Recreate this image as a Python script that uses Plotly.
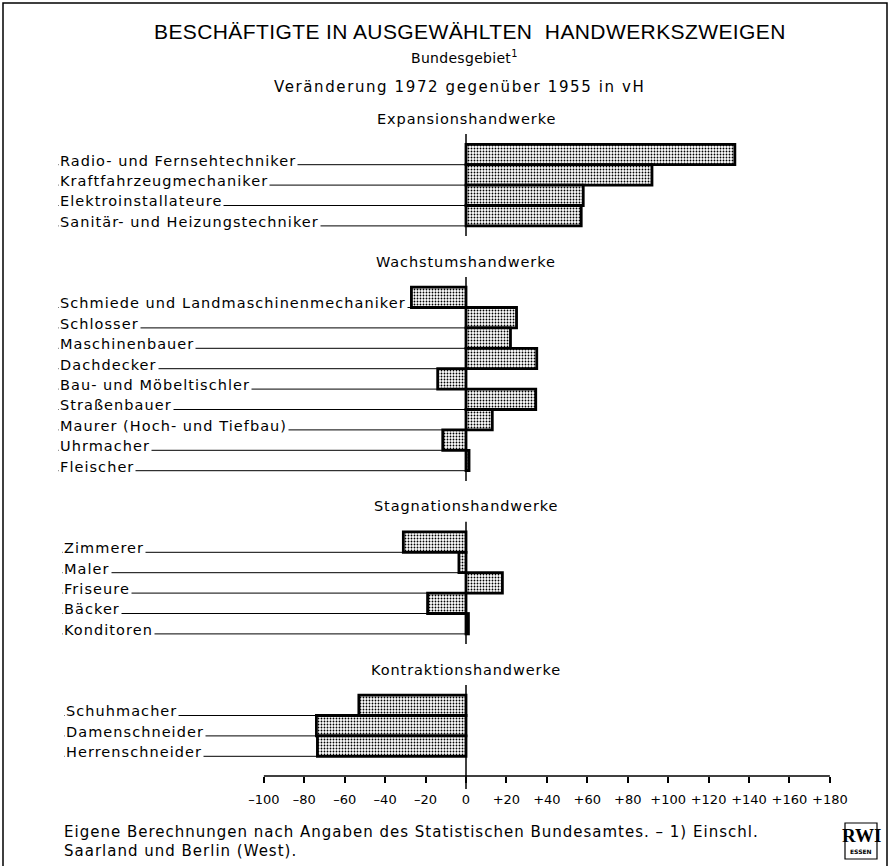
import plotly.graph_objects as go

# ---------------- data ----------------
group_titles = ["Expansionshandwerke", "Wachstumshandwerke",
                "Stagnationshandwerke", "Kontraktionshandwerke"]

expansion_labels = ["Radio- und Fernsehtechniker", "Kraftfahrzeugmechaniker",
                    "Elektroinstallateure", "Sanitär- und Heizungstechniker"]
expansion_values = [133, 92, 58, 57]

growth_labels = ["Schmiede und Landmaschinenmechaniker", "Schlosser", "Maschinenbauer",
                 "Dachdecker", "Bau- und Möbeltischler", "Straßenbauer",
                 "Maurer (Hoch- und Tiefbau)", "Uhrmacher", "Fleischer"]
growth_values = [-27, 25, 22, 35, -14, 34.5, 13, -11.5, 1.5]

stagnation_labels = ["Zimmerer", "Maler", "Friseure", "Bäcker", "Konditoren"]
stagnation_values = [-31, -3.5, 18, -19, 1.2]

contraction_labels = ["Schuhmacher", "Damenschneider", "Herrenschneider"]
contraction_values = [-53, -74, -73.5]

tick_values = [-100, -80, -60, -40, -20, 0, 20, 40, 60, 80, 100, 120, 140, 160, 180]
tick_labels = ["–100", "–80", "–60", "–40", "–20", "0", "+20", "+40", "+60",
               "+80", "+100", "+120", "+140", "+160", "+180"]

title_text = "BESCHÄFTIGTE IN AUSGEWÄHLTEN  HANDWERKSZWEIGEN"
subtitle_text = "Bundesgebiet<sup>1</sup>"
unit_text = "Veränderung 1972 gegenüber 1955 in vH"
source_lines = ["Eigene Berechnungen nach Angaben des Statistischen Bundesamtes. – 1) Einschl.",
                "Saarland und Berlin (West)."]

# ---------------- layout constants (pixels) ----------------
W, H = 889, 866
PL, PR, PT, PB = 20, 869, 93, 776
ZERO_PX = 466
PX_PER_UNIT = (830 - 264) / 280
ROW0_PX = 154.5
ROW_PX = 20.4
GAP_ROWS = 3
LABEL_PX = [58, 58, 62, 64]

def xp(px):
    return (px - PL) / (PR - PL)

def yp(py):
    return (PB - py) / (PB - PT)

def xd(px):
    return (px - ZERO_PX) / PX_PER_UNIT

def spaced(text, sp):
    return '<span style="letter-spacing:%spx">%s</span>' % (sp, text)

groups = [(expansion_labels, expansion_values), (growth_labels, growth_values),
          (stagnation_labels, stagnation_values), (contraction_labels, contraction_values)]

FONT = "DejaVu Sans"

all_pos, all_vals = [], []
shapes, annotations = [], []
pos = 0
for gi, (labels, values) in enumerate(groups):
    first = pos
    for lab, val in zip(labels, values):
        all_pos.append(pos)
        all_vals.append(val)
        lx = xd(LABEL_PX[gi])
        shapes.append(dict(type="line", xref="x", yref="y", x0=lx, x1=0,
                           y0=pos + 0.5, y1=pos + 0.5,
                           line=dict(color="black", width=1), layer="below"))
        annotations.append(dict(x=lx, y=pos + 0.3, xref="x", yref="y", text=spaced(lab, 1.05),
                                showarrow=False, xanchor="left", yanchor="middle",
                                bgcolor="white", borderpad=1,
                                font=dict(family=FONT, size=14.5, color="black")))
        pos += 1
    last = pos - 1
    annotations.append(dict(x=0, y=first - 1.75, xref="x", yref="y",
                            text=spaced(group_titles[gi], 0.9),
                            showarrow=False, xanchor="center", yanchor="middle",
                            font=dict(family=FONT, size=14.5, color="black")))
    top_px = ROW0_PX + (first - 1.0) * ROW_PX
    if gi < len(groups) - 1:
        bot_px = ROW0_PX + (last + 1.0) * ROW_PX
    else:
        bot_px = PB + 13
    shapes.append(dict(type="line", xref="x", yref="paper", x0=0, x1=0,
                       y0=yp(top_px), y1=yp(bot_px),
                       line=dict(color="black", width=1.5)))
    pos += GAP_ROWS

# axis line
shapes.append(dict(type="line", xref="x", yref="paper", x0=tick_values[0], x1=tick_values[-1],
                   y0=0, y1=0, line=dict(color="black", width=1.5)))
# frame
shapes.append(dict(type="rect", xref="paper", yref="paper", x0=xp(3), x1=xp(887),
                   y0=yp(3), y1=yp(900), line=dict(color="black", width=1.5)))
# logo box
shapes.append(dict(type="rect", xref="paper", yref="paper", x0=xp(845), x1=xp(877),
                   y0=yp(823), y1=yp(859), line=dict(color="black", width=1.2)))

annotations += [
    dict(x=xp(470), y=yp(32), xref="paper", yref="paper", text=spaced(title_text, 0.4),
         showarrow=False, xanchor="center", yanchor="middle",
         font=dict(family="Liberation Sans", size=21, color="black")),
    dict(x=xp(465), y=yp(57), xref="paper", yref="paper", text=spaced(subtitle_text, 0.3),
         showarrow=False, xanchor="center", yanchor="middle",
         font=dict(family=FONT, size=14, color="black")),
    dict(x=xp(459), y=yp(87), xref="paper", yref="paper", text=spaced(unit_text, 1.6),
         showarrow=False, xanchor="center", yanchor="middle",
         font=dict(family=FONT, size=15, color="black")),
    dict(x=xp(62), y=yp(832), xref="paper", yref="paper", text=spaced(source_lines[0], 1.0),
         showarrow=False, xanchor="left", yanchor="middle",
         font=dict(family=FONT, size=15, color="black")),
    dict(x=xp(62), y=yp(851), xref="paper", yref="paper", text=spaced(source_lines[1], 1.0),
         showarrow=False, xanchor="left", yanchor="middle",
         font=dict(family=FONT, size=15, color="black")),
    dict(x=xp(861), y=yp(836), xref="paper", yref="paper", text="<b>RWI</b>", showarrow=False,
         xanchor="center", yanchor="middle",
         font=dict(family="Liberation Serif", size=19, color="black")),
    dict(x=xp(861), y=yp(852), xref="paper", yref="paper", text="<b>ESSEN</b>", showarrow=False,
         xanchor="center", yanchor="middle",
         font=dict(family=FONT, size=6, color="black")),
]

fig = go.Figure(go.Bar(
    x=all_vals, y=all_pos, orientation="h", width=1.0,
    marker=dict(color="white",
                line=dict(color="black", width=2.8),
                pattern=dict(shape=".", fgcolor="black", bgcolor="white",
                             size=3, solidity=0.3, fillmode="replace")),
    hoverinfo="x",
))

fig.update_layout(
    width=W, height=H,
    margin=dict(l=PL, r=W - PR, t=PT, b=H - PB),
    paper_bgcolor="white", plot_bgcolor="white",
    showlegend=False,
    shapes=shapes, annotations=annotations,
    xaxis=dict(range=[xd(PL), xd(PR)], tickvals=tick_values, ticktext=tick_labels,
               ticks="outside", ticklen=6, tickwidth=1.5, tickcolor="black",
               showgrid=False, zeroline=False, showline=False,
               ticklabelstandoff=5,
               tickfont=dict(family=FONT, size=13, color="black")),
    yaxis=dict(range=[(PB - ROW0_PX) / ROW_PX, (PT - ROW0_PX) / ROW_PX],
               visible=False, showgrid=False, zeroline=False),
)

fig.write_html("out.html", config={"displayModeBar": False},
               post_script="document.body.style.margin='0';")
